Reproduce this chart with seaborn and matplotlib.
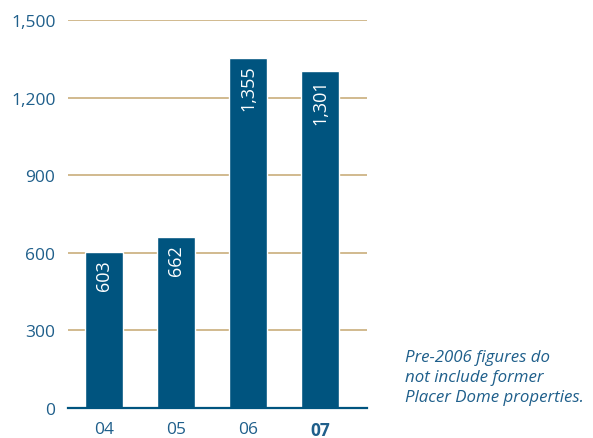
import matplotlib
matplotlib.use("Agg")
import matplotlib.pyplot as plt
import seaborn as sns
import pandas as pd

years = ["04", "05", "06", "07"]
values = [603, 662, 1355, 1301]
value_labels = ["603", "662", "1,355", "1,301"]
yticks = [0, 300, 600, 900, 1200, 1500]
ytick_labels = ["0", "300", "600", "900", "1,200", "1,500"]
note = "Pre-2006 figures do\nnot include former\nPlacer Dome properties."

sns.set_theme(style="white")
plt.rcParams['font.family'] = ['Open Sans', 'DejaVu Sans']

bar_color = "#00547F"
text_color = "#1F5F8B"
grid_color = "#C9AE7C"

df = pd.DataFrame({"year": years, "value": values})

fig = plt.figure(figsize=(5.93, 4.39), dpi=100)
ax = fig.add_axes([68/593, 1-409/439, (367-68)/593, (409-21)/439])

for y in yticks[1:]:
    ax.axhline(y, color=grid_color, lw=1.2, zorder=0)

sns.barplot(data=df, x="year", y="value", color=bar_color, width=0.53,
            saturation=1, ax=ax, zorder=2)

for i, (v, lab) in enumerate(zip(values, value_labels)):
    ax.text(i, v - 28, lab, rotation=90, ha="center", va="top",
            color="white", fontsize=13, zorder=3)

ax.set_xlim(-0.5, 3.65)
ax.set_ylim(0, 1500)
ax.set_yticks(yticks)
ax.set_yticklabels(ytick_labels)
ax.set_xlabel("")
ax.set_ylabel("")
for s in ["top", "right", "left"]:
    ax.spines[s].set_visible(False)
ax.spines["bottom"].set_color(bar_color)
ax.spines["bottom"].set_linewidth(1.6)
ax.spines["bottom"].set_zorder(4)
ax.tick_params(axis="both", length=0, colors=text_color, labelsize=12.5)
ax.tick_params(axis="y", pad=9)
ax.tick_params(axis="x", pad=9.5)
for t in ax.get_xticklabels():
    if t.get_text() == "07":
        t.set_fontweight("bold")

fig.text(405/593, 1-350/439, note, color=text_color, fontsize=12.2,
         style="italic", ha="left", va="top", linespacing=1.35)

fig.savefig("out.png", dpi=100)
